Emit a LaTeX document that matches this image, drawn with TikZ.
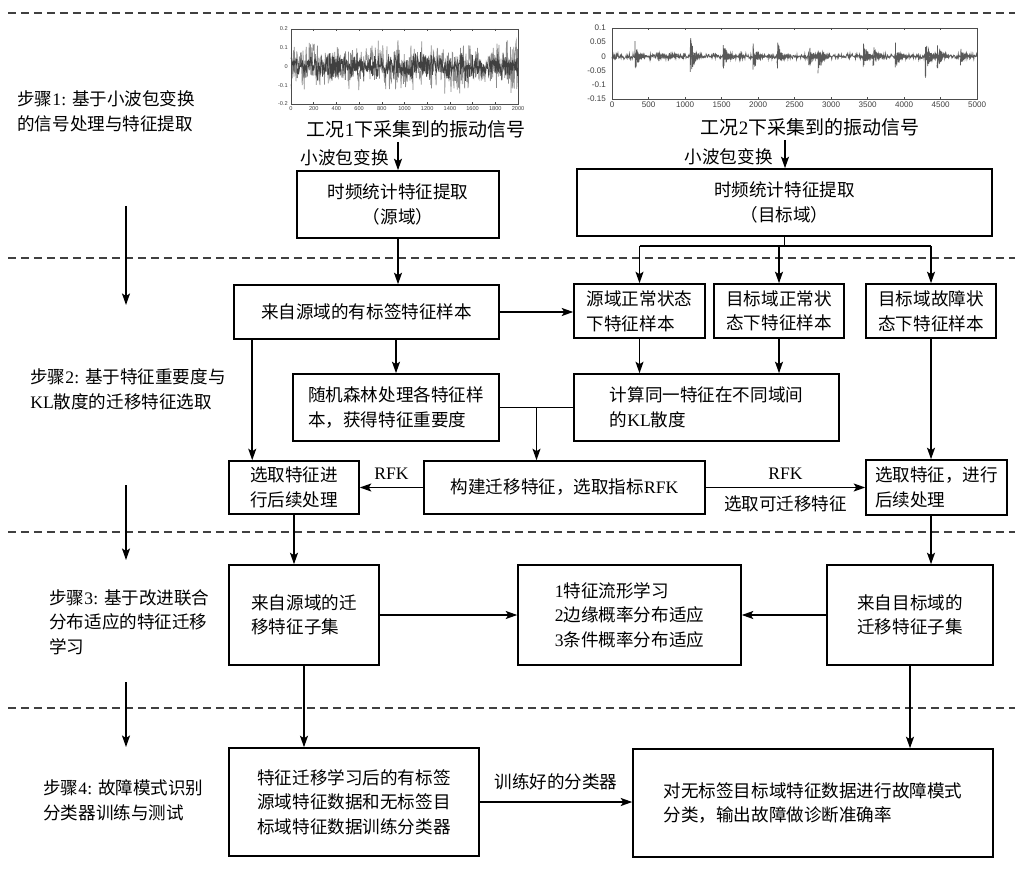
\documentclass[tikz,border=0pt]{standalone}
\usepackage{fontspec}
\setmainfont{Liberation Serif}
\newfontfamily\cjk{Noto Sans CJK SC}
\newfontfamily\lat{Liberation Serif}
\newfontfamily\plotfont{Liberation Sans}
\usetikzlibrary{arrows.meta,calc}

\begin{document}
\begin{tikzpicture}[x=0.02cm, y=-0.02cm,
    box/.style={draw, line width=0.9pt, align=center, inner sep=0pt, font=\cjk\fontsize{10}{14}\selectfont},
    txt/.style={align=left, inner sep=0pt, font=\cjk\fontsize{10}{14}\selectfont},
    arr/.style={line width=0.9pt, -{Stealth[length=2.3mm, width=1.6mm, inset=0.5mm]}},
    link/.style={line width=0.9pt},
    sep/.style={dash pattern=on 0.16cm off 0.1cm, line width=0.8pt, black!75},
    tick/.style={inner sep=0.5pt, font=\plotfont\fontsize{3.2}{3.2}\selectfont, text=black!75},
    tickb/.style={inner sep=0.5pt, font=\plotfont\fontsize{4.6}{4.6}\selectfont, text=black!75}]
    \useasboundingbox (0,0) rectangle (1020,881);
    \pgfmathsetseed{17}

    % stage separators
    \foreach \y in {13,258,532,708}
        \draw[sep] (8,\y) -- (1015,\y);

    % stage labels
    \node[txt, anchor=west] (step1) at (17,111.5) {步骤{\lat 1: }基于小波包变换\\的信号处理与特征提取};
    \node[txt, anchor=west] (step2) at (30,389.5) {步骤{\lat 2: }基于特征重要度与\\{\lat KL}散度的迁移特征选取};
    \node[txt, anchor=west] (step3) at (49,622) {步骤{\lat 3: }基于改进联合\\分布适应的特征迁移\\学习};
    \node[txt, anchor=west] (step4) at (43,800.5) {步骤{\lat 4: }故障模式识别\\分类器训练与测试};
    \coordinate (a1) at (126,206); \coordinate (b1) at (126,305);
    \coordinate (a2) at (126,485); \coordinate (b2) at (126,560);
    \coordinate (a3) at (126,682); \coordinate (b3) at (126,747);
    \draw[arr] (a1) -- (b1);
    \draw[arr] (a2) -- (b2);
    \draw[arr] (a3) -- (b3);

    % signal 1
    \draw[black!45, line width=0.4pt] plot[domain=0:2000, samples=550, variable=\t]
        ({291+0.1135*\t}, {66.5-187.5*0.075*(rand+rand)});
    \draw[black!75, line width=0.4pt] plot[domain=0:2000, samples=550, variable=\t]
        ({291+0.1135*\t}, {66.5-187.5*0.04*(rand+rand)});
    \draw[line width=0.4pt, black!70] (291,29) rectangle (518,104);
    \foreach \k in {0,...,10} {
        \draw[line width=0.3pt, black!70] ({291+22.7*\k},104) -- ++(0,-2);
        \draw[line width=0.3pt, black!70] ({291+22.7*\k},29) -- ++(0,2);
        \node[tick, anchor=north] (xa\k) at ({291+22.7*\k},105) {\the\numexpr200*\k\relax};
    }
    \foreach \v/\yy [count=\i] in {0.2/29, 0.1/47.75, 0/66.5, -0.1/85.25, -0.2/104}
        \node[tick, anchor=east] (ya\i) at (289,\yy) {\v};
    \node[txt, font=\cjk\fontsize{10.8}{14}\selectfont] (cap1) at (416,129) {工况{\lat 1}下采集到的振动信号};

    % signal 2
    \draw[black!65, line width=0.45pt] plot[domain=0:5000, samples=800, variable=\t]
        ({612+0.073*\t}, {56.4-284*0.006*(rand+rand)});
    \foreach \b/\a [evaluate=\b as \e using \b+170] in {315/0.055, 630/0.02, 770/0.02, 1070/0.08,
            1520/0.055, 1930/0.065, 2260/0.065, 2690/0.05, 2820/0.08, 3440/0.065,
            3575/0.045, 3880/0.055, 4290/0.105, 4450/0.065, 4770/0.035}
        \draw[black!65, line width=0.4pt] plot[domain=\b:\e, samples=55, variable=\t]
            ({612+0.073*\t}, {56.4-284*\a*exp(-(\t-\b)/50)*rand});
    \draw[line width=0.4pt, black!70] (612,28) rectangle (977,99);
    \foreach \k in {0,...,10} {
        \draw[line width=0.3pt, black!70] ({612+36.5*\k},99) -- ++(0,-2);
        \draw[line width=0.3pt, black!70] ({612+36.5*\k},28) -- ++(0,2);
        \node[tickb, anchor=north] (xb\k) at ({612+36.5*\k},101) {\the\numexpr500*\k\relax};
    }
    \foreach \v/\yy [count=\i] in {0.1/28, 0.05/42.2, 0/56.4, -0.05/70.6, -0.1/84.8, -0.15/99}
        \node[tickb, anchor=east] (yb\i) at (607,\yy) {\v};
    \node[txt, font=\cjk\fontsize{10.8}{14}\selectfont] (cap2) at (810,127) {工况{\lat 2}下采集到的振动信号};

    % step 1 boxes
    \node[txt, anchor=east] (wp1) at (389,158) {小波包变换};
    \node[txt, anchor=east] (wp2) at (773,157) {小波包变换};
    \coordinate (w1) at (398,142);
    \coordinate (w2) at (785,140);
    \node[box, minimum width=4.04cm, minimum height=1.34cm] (tsrc) at (398,204.5) {时频统计特征提取\\（源域）};
    \node[box, minimum width=8.3cm, minimum height=1.34cm] (ttgt) at (784.5,202.5) {时频统计特征提取\\（目标域）};

    % step 2 boxes
    \node[box, minimum width=5.3cm, minimum height=1.08cm] (lab) at (366.5,312) {来自源域的有标签特征样本};
    \node[box, align=left, minimum width=2.62cm, minimum height=1.08cm] (srcn) at (639.5,311) {源域正常状态\\下特征样本};
    \node[box, align=left, minimum width=2.6cm, minimum height=1.08cm] (tgtn) at (779,311) {目标域正常状\\态下特征样本};
    \node[box, align=left, minimum width=2.6cm, minimum height=1.08cm] (tgtf) at (931,311) {目标域故障状\\态下特征样本};
    \node[box, align=left, minimum width=4.12cm, minimum height=1.34cm] (rf) at (396,407.5) {随机森林处理各特征样\\本，获得特征重要度};
    \node[box, align=left, minimum width=5.3cm, minimum height=1.34cm] (kl) at (706.5,407.5) {计算同一特征在不同域间\\的{\lat KL}散度};
    \node[box, align=left, minimum width=2.6cm, minimum height=1.06cm] (selsrc) at (294,487.5) {选取特征进\\行后续处理};
    \node[box, minimum width=5.62cm, minimum height=1.06cm] (build) at (564.5,487.5) {构建迁移特征，选取指标{\lat RFK}};
    \node[box, align=left, minimum width=2.82cm, minimum height=1.1cm] (seltgt) at (936.5,487.5) {选取特征，进行\\后续处理};

    % step 3 boxes
    \node[box, align=left, minimum width=3cm, minimum height=2cm] (subsrc) at (304,615) {来自源域的迁\\移特征子集};
    \node[box, align=left, minimum width=4.46cm, minimum height=2cm] (jda) at (629.5,615) {{\lat 1}特征流形学习\\{\lat 2}边缘概率分布适应\\{\lat 3}条件概率分布适应};
    \node[box, align=left, minimum width=3.32cm, minimum height=2cm] (subtgt) at (910,615) {来自目标域的\\迁移特征子集};

    % step 4 boxes
    \node[box, minimum width=5cm, minimum height=2.16cm] (train) at (354,802) {特征迁移学习后的有标签\\源域特征数据和无标签目\\标域特征数据训练分类器};
    \node[box, align=left, minimum width=7.2cm, minimum height=2.16cm] (diag) at (813,803) {对无标签目标域特征数据进行故障模式\\分类，输出故障做诊断准确率};

    % connectors
    \draw[arr] (w1) -- (tsrc.north);
    \draw[arr] (w2) -- (w2 |- ttgt.north);
    \draw[arr] (tsrc.south) -- (tsrc.south |- lab.north);
    \draw[link] (ttgt.south) -- ++(0,9) coordinate (br);
    \draw[link] (br -| srcn.north) -- (br -| tgtf.north);
    \foreach \n in {srcn,tgtn,tgtf}
        \draw[arr] (br -| \n.north) -- (\n.north);
    \draw[arr] (lab.east) -- (lab.east -| srcn.west);
    \draw[arr] (lab.south -| rf.north) -- (rf.north);
    \coordinate (lf) at ($(lab.south west)+(19,0)$);
    \draw[arr] (lf) -- (lf |- selsrc.north);
    \draw[arr] (srcn.south) -- (srcn.south |- kl.north);
    \draw[arr] (tgtn.south) -- (tgtn.south |- kl.north);
    \draw[link] (rf.east) -- (kl.west);
    \coordinate (jn) at ($(rf.east)!0.5!(kl.west)$);
    \draw[arr] (jn) -- (jn |- build.north);
    \draw[arr] (build.west) -- (selsrc.east)
        node[midway, above=0.14cm, txt, font=\lat\fontsize{10}{12}\selectfont] (rfk1) {RFK};
    \draw[arr] (build.east) -- (build.east -| seltgt.west)
        node[midway, above=0.14cm, txt, font=\lat\fontsize{10}{12}\selectfont] (rfk2) {RFK}
        node[midway, below=0.14cm, txt] (pick) {选取可迁移特征};
    \draw[arr] (tgtf.south) -- (tgtf.south |- seltgt.north);
    \draw[arr] (selsrc.south) -- (selsrc.south |- subsrc.north);
    \draw[arr] (seltgt.south -| tgtf.south) -- (tgtf.south |- subtgt.north);
    \draw[arr] (subsrc.east) -- (jda.west);
    \draw[arr] (subtgt.west) -- (jda.east);
    \draw[arr] (subsrc.south) -- (subsrc.south |- train.north);
    \draw[arr] (subtgt.south) -- (subtgt.south |- diag.north);
    \draw[arr] (train.east) -- (train.east -| diag.west)
        node[midway, above=0.23cm, txt] (clf) {训练好的分类器};
\end{tikzpicture}
\end{document}
